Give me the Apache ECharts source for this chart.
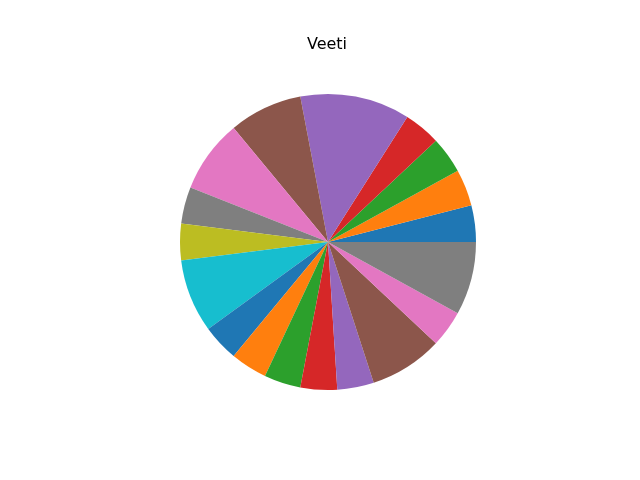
<!DOCTYPE html>
<html>
<head>
<meta charset="utf-8">
<script src="https://cdn.jsdelivr.net/npm/echarts@6/dist/echarts.min.js"></script>
<style>html,body{margin:0;padding:0;background:#fff;}#c{width:640px;height:480px;}</style>
</head>
<body>
<div id="c"></div>
<script>
const titleText = "Veeti";
const categories = ["A","B","C","D","E","F","G","H","I","J","K","L","M","N","O","P","Q","R"];
const values = [1,1,1,1,3,2,2,1,1,2,1,1,1,1,1,2,1,2];
const palette = ["#1f77b4","#ff7f0e","#2ca02c","#d62728","#9467bd","#8c564b","#e377c2","#7f7f7f","#bcbd22","#17becf"];

const chart = echarts.init(document.getElementById('c'), null, {renderer:'canvas'});
chart.setOption({
  animation: false,
  backgroundColor: '#ffffff',
  title: {
    text: titleText, left: 322, textAlign: 'center', top: 32,
    textStyle: {fontFamily: 'DejaVu Sans', fontSize: 16, fontWeight: 'normal', color: '#000'}
  },
  series: [{
    type: 'pie',
    center: [328, 242],
    radius: 148,
    startAngle: 0,
    clockwise: false,
    label: {show: false},
    labelLine: {show: false},
    emphasis: {disabled: true},
    itemStyle: {borderWidth: 0},
    data: categories.map((n, i) => ({name: n, value: values[i], itemStyle: {color: palette[i % 10]}}))
  }]
});
</script>
</body>
</html>
